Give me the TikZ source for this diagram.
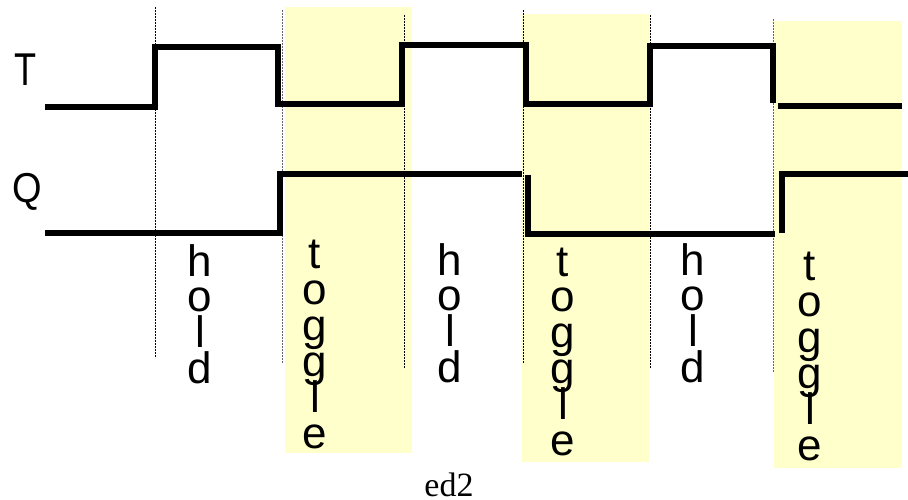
\documentclass[tikz,border=0pt]{standalone}
\usepackage{fontspec}
\setmainfont{Liberation Sans}
\newfontfamily\edfont{Liberation Serif}
\definecolor{hiyellow}{HTML}{FFFFCC}
\newcommand{\VertWord}[5]{% name, x, y0, step, letters
  \foreach \c [count=\i from 0] in {#5} {
    \node[letter] (#1-\i) at (#2, #3+\i*#4) {\c};
  }}
\tikzset{
  letter/.style={inner sep=0pt, anchor=base, font=\fontsize{44}{44}\selectfont},
  siglabel/.style={inner sep=0pt, font=\fontsize{38}{38}\selectfont},
  signal/.style={line width=5.5pt, line join=miter, line cap=butt},
  marker/.style={black, line width=0.7pt, dash pattern=on 1.6pt off 1.4pt},
  grmarker/.style={marker, draw=black!60},
  phase/.style={fill=hiyellow, draw=none},
}
\begin{document}
\begin{tikzpicture}[x=1pt, y=-1pt]
\useasboundingbox (0,0) rectangle (908,500);

% toggle phases
\fill[phase] (285,7) rectangle (412,453);
\fill[phase] (522,14) rectangle (649,462);
\fill[phase] (774,21) rectangle (902,468);

% dotted markers
\coordinate (m1t) at (155,7);   \coordinate (m1b) at (155,358);
\coordinate (m2t) at (282,10);  \coordinate (m2b) at (282,363);
\coordinate (m3t) at (404,15);  \coordinate (m3b) at (404,368);
\coordinate (m4t) at (523,10);  \coordinate (m4b) at (523,363);
\coordinate (m5t) at (650,15);  \coordinate (m5b) at (650,368);
\coordinate (m6t) at (773,19);  \coordinate (m6b) at (773,372);
\draw[marker] (m1t) -- (m1b);
\draw[grmarker] (m2t) -- (m2b);
\draw[marker] (m3t) -- (m3b);
\draw[marker] (m4t) -- (m4b);
\draw[marker] (m5t) -- (m5b);
\draw[grmarker] (m6t) -- (m6b);

% signal T
\draw[signal] (45,107) -- (155,107) -- (155,47) -- (278,47) -- (278,104)
  -- (402,104) -- (402,45) -- (526,45) -- (526,104) -- (650,104)
  -- (650,46) -- (773,46) -- (773,103);
\draw[signal] (778,106) -- (902,106);

% signal Q
\draw[signal] (45,233) -- (280,233) -- (280,174) -- (522,174);
\draw[signal] (528,175) -- (528,234) -- (775,234);
\draw[signal] (782,233) -- (782,174) -- (908,174);

% signal names
\node[siglabel] (lblT) at (26,70) {\scalebox{0.95}[1.21]{T}};
\node[siglabel] (lblQ) at (27,192) {\scalebox{1}[1.1]{Q}};

% phase labels
\VertWord{hold1}{200}{276}{35.7}{h,o,l,d}
\VertWord{tog1}{315}{268}{36}{t,o,g,g,l,e}
\VertWord{hold2}{450}{275}{35.7}{h,o,l,d}
\VertWord{tog2}{563}{276}{35.8}{t,o,g,g,l,e}
\VertWord{hold3}{693}{275}{35.7}{h,o,l,d}
\VertWord{tog3}{810}{280}{36}{t,o,g,g,l,e}

% footer
\node[inner sep=0pt, anchor=base, font=\edfont\fontsize{34}{34}\selectfont] (foot) at (449,496) {ed2};
\end{tikzpicture}
\end{document}
